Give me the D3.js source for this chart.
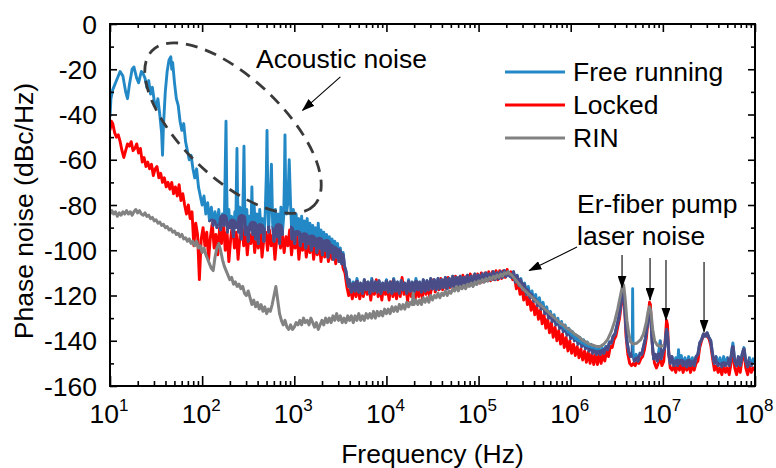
<html>
<head>
<script src="https://d3js.org/d3.v7.min.js"></script>
<style>
  body { margin: 0; background: #fff; }
  text { font-family: "Liberation Sans", Arial, sans-serif; fill: #000; }
</style>
</head>
<body>
<svg id="chart" width="776" height="468"></svg>
<script>
// ---- data: [log10(frequency / Hz), phase noise dBc/Hz] ----
const freeRunning = [
  [1.00,-41],[1.01,-33],[1.03,-29],[1.05,-27],[1.08,-24],[1.11,-21],[1.14,-23],[1.17,-30],[1.19,-33],[1.21,-27],
  [1.24,-20],[1.26,-19],[1.29,-24],[1.31,-26],[1.34,-21],[1.36,-22],[1.38,-24],[1.40,-28],[1.42,-25],[1.44,-31],
  [1.46,-28],[1.48,-34],[1.50,-37],[1.52,-33],[1.54,-40],[1.56,-48],[1.57,-58],[1.58,-45],[1.60,-30],[1.62,-21],
  [1.64,-16],[1.66,-14.5],[1.67,-20],[1.68,-17],[1.70,-26],[1.72,-33],[1.74,-36],[1.76,-43],[1.78,-47],[1.80,-44],
  [1.82,-52],[1.84,-56],[1.86,-60],[1.88,-58],[1.90,-64],[1.92,-68],[1.94,-64],[1.96,-72],[1.98,-76],[2.00,-80],
  [2.02,-76],[2.04,-84],[2.06,-79],[2.08,-87],[2.10,-81],[2.12,-89],[2.14,-83],[2.16,-90],[2.18,-82],[2.20,-91],
  [2.22,-84],[2.24,-89],[2.252,-60],[2.259,-43],[2.266,-70],[2.275,-92],[2.29,-82],[2.30,-90],[2.32,-85],[2.34,-94],
  [2.355,-83],[2.365,-90],[2.372,-70],[2.378,-55],[2.384,-75],[2.395,-92],[2.41,-81],[2.425,-95],[2.44,-84],[2.448,-70],
  [2.454,-54],[2.46,-75],[2.47,-93],[2.485,-82],[2.50,-96],[2.515,-85],[2.53,-91],[2.54,-72],[2.55,-93],[2.565,-80],
  [2.58,-95],[2.595,-84],[2.61,-97],[2.625,-82],[2.64,-92],[2.655,-86],[2.67,-96],[2.685,-83],[2.697,-66],[2.704,-47],
  [2.711,-70],[2.72,-92],[2.735,-80],[2.752,-62],[2.765,-88],[2.78,-96],[2.795,-82],[2.81,-94],[2.825,-84],[2.84,-97],
  [2.855,-81],[2.87,-93],[2.885,-85],[2.893,-68],[2.899,-49],[2.906,-72],[2.915,-84],[2.93,-79],[2.945,-60],[2.96,-80],
  [2.975,-95],[2.99,-82],[3.005,-97],[3.02,-84],[3.035,-93],[3.05,-86],[3.065,-98],[3.08,-85],[3.095,-96],[3.11,-87],
  [3.125,-99],[3.14,-86],[3.155,-97],[3.17,-88],[3.185,-100],[3.20,-89],[3.215,-98],[3.23,-90],[3.245,-101],[3.26,-88],
  [3.275,-99],[3.29,-91],[3.305,-102],[3.32,-92],[3.335,-100],[3.35,-93],[3.365,-103],[3.38,-94],[3.395,-101],[3.41,-95],
  [3.425,-104],[3.44,-96],[3.455,-103],[3.47,-97],[3.485,-105],[3.50,-99],[3.515,-106],[3.53,-101],[3.545,-107],[3.56,-109],
  [3.575,-113],[3.59,-116],[3.60,-113],[3.62,-118.5],[3.64,-114],[3.66,-118],[3.68,-112.5],[3.70,-118.5],[3.72,-114.5],[3.74,-119],
  [3.76,-113],[3.78,-117.5],[3.80,-114],[3.82,-119],[3.84,-112.5],[3.86,-118],[3.88,-114],[3.90,-118.5],[3.92,-113.5],[3.94,-119],
  [3.96,-114.5],[3.98,-117.5],[4.00,-113],[4.02,-118.5],[4.04,-114],[4.06,-119],[4.08,-112.5],[4.10,-118],[4.12,-114],[4.14,-119],
  [4.16,-113.5],[4.18,-117.5],[4.20,-114.5],[4.22,-119],[4.24,-113],[4.26,-118],[4.28,-114],[4.30,-118.5],[4.32,-112.5],[4.34,-117.5],
  [4.36,-114],[4.38,-118.5],[4.40,-113],[4.42,-118],[4.44,-113.5],[4.46,-117.5],[4.48,-112.5],[4.50,-117],[4.52,-113],[4.54,-117.5],
  [4.56,-112.5],[4.58,-117],[4.60,-113],[4.62,-116.5],[4.64,-112],[4.66,-117],[4.68,-112.5],[4.70,-116],[4.72,-111.5],[4.74,-116.5],
  [4.76,-112],[4.78,-115.5],[4.80,-111.5],[4.82,-116],[4.84,-112],[4.86,-115],[4.88,-111],[4.90,-115.5],[4.92,-111.5],[4.94,-114.5],
  [4.96,-110.5],[4.98,-115],[5.00,-111],[5.02,-114],[5.04,-110.5],[5.06,-114],[5.08,-110],[5.10,-113.5],[5.12,-110.5],[5.14,-113],
  [5.16,-109.5],[5.18,-113],[5.20,-110],[5.22,-112.5],[5.24,-109.5],[5.26,-112],[5.28,-109],[5.30,-111.5],[5.32,-109.5],[5.34,-111.5],
  [5.36,-112],[5.38,-109.5],[5.40,-114],[5.42,-111],[5.44,-115.5],[5.46,-112.5],[5.48,-117.5],[5.50,-114.5],[5.52,-119.5],[5.54,-116],
  [5.56,-121],[5.58,-118],[5.60,-122.5],[5.62,-119.5],[5.64,-124.5],[5.66,-121],[5.68,-126],[5.70,-123],[5.72,-128],[5.74,-125],
  [5.76,-130],[5.78,-127],[5.80,-131.5],[5.82,-128.5],[5.84,-133],[5.86,-130],[5.88,-134.5],[5.90,-131.5],[5.92,-136],[5.94,-133],
  [5.96,-137.5],[5.98,-134.5],[6.00,-139],[6.02,-136],[6.04,-140],[6.06,-137.5],[6.08,-141.5],[6.10,-138.5],[6.12,-142.5],[6.14,-139.5],
  [6.16,-143.5],[6.18,-140.5],[6.20,-144.5],[6.22,-141.5],[6.24,-145.5],[6.26,-142.5],[6.28,-146],[6.30,-143],[6.32,-146],[6.34,-143],
  [6.36,-145.5],[6.38,-142.5],[6.40,-144],[6.42,-140.5],[6.44,-141],[6.46,-138],[6.48,-137],[6.50,-133.5],[6.52,-130],[6.54,-125],
  [6.555,-120],[6.57,-117],[6.58,-121],[6.595,-131],[6.61,-140],[6.63,-145],[6.65,-147],[6.668,-146],[6.672,-117],[6.678,-146],
  [6.69,-149],[6.71,-146],[6.73,-149],[6.75,-145.5],[6.77,-146],[6.79,-142.5],[6.81,-139],[6.83,-133],[6.85,-127],[6.86,-126],
  [6.87,-131],[6.885,-141],[6.90,-148],[6.92,-146],[6.94,-149],[6.955,-145],[6.97,-140],[6.98,-148],[7.00,-145],[7.02,-143],
  [7.04,-135],[7.05,-137],[7.065,-146],[7.08,-150],[7.10,-147],[7.12,-151],[7.14,-147.5],[7.16,-151],[7.17,-144],[7.18,-150],
  [7.20,-146.5],[7.22,-151],[7.24,-147.5],[7.26,-151.5],[7.28,-147],[7.30,-151],[7.32,-147.5],[7.34,-151],[7.36,-147],[7.38,-146],
  [7.40,-141],[7.42,-139.5],[7.44,-137],[7.46,-138],[7.48,-136.5],[7.50,-138.5],[7.52,-140],[7.54,-146],[7.56,-150],[7.58,-147],
  [7.60,-151],[7.62,-147.5],[7.64,-151.5],[7.66,-147],[7.68,-151],[7.70,-147.5],[7.72,-151],[7.74,-147],[7.76,-141],[7.78,-149],
  [7.80,-151],[7.82,-147],[7.84,-151],[7.86,-146],[7.88,-143],[7.90,-149],[7.92,-151.5],[7.94,-147.5],[7.96,-151],[7.98,-148],
  [8.00,-150]
];

const locked = [
  [1.00,-47],[1.015,-43],[1.03,-44],[1.05,-48],[1.07,-50],[1.09,-49],[1.11,-52],[1.13,-56],[1.15,-59],[1.17,-56],
  [1.19,-53],[1.21,-54],[1.23,-52],[1.25,-56],[1.27,-55],[1.29,-53],[1.31,-57],[1.33,-55],[1.35,-61],[1.37,-59],
  [1.39,-63],[1.41,-61],[1.43,-64],[1.45,-62],[1.47,-67],[1.49,-64],[1.51,-63],[1.53,-68],[1.55,-66],[1.57,-70],
  [1.59,-68],[1.61,-72],[1.63,-70],[1.65,-73],[1.67,-70],[1.69,-75],[1.71,-72],[1.73,-76],[1.75,-71],[1.77,-78],
  [1.79,-75],[1.81,-80],[1.83,-84],[1.85,-80],[1.87,-86],[1.89,-83],[1.91,-98],[1.93,-88],[1.95,-93],[1.97,-113],
  [1.99,-95],[2.01,-90],[2.03,-98],[2.05,-92],[2.07,-104],[2.09,-94],[2.11,-88],[2.13,-99],[2.15,-93],[2.17,-102],
  [2.19,-90],[2.21,-97],[2.23,-86],[2.25,-100],[2.27,-92],[2.29,-105],[2.31,-95],[2.33,-88],[2.35,-99],[2.37,-92],
  [2.39,-104],[2.41,-94],[2.43,-86],[2.45,-98],[2.47,-91],[2.49,-102],[2.51,-93],[2.53,-97],[2.55,-89],[2.57,-101],
  [2.59,-94],[2.61,-99],[2.63,-90],[2.65,-103],[2.67,-95],[2.69,-92],[2.71,-100],[2.73,-91],[2.75,-98],[2.77,-93],
  [2.79,-104],[2.81,-95],[2.83,-90],[2.85,-99],[2.87,-93],[2.89,-101],[2.91,-94],[2.93,-98],[2.95,-91],[2.97,-102],
  [2.99,-95],[3.01,-99],[3.03,-93],[3.05,-104],[3.07,-96],[3.09,-100],[3.11,-94],[3.13,-103],[3.15,-97],[3.17,-101],
  [3.19,-95],[3.21,-104],[3.23,-97],[3.25,-102],[3.27,-96],[3.29,-105],[3.31,-98],[3.33,-103],[3.35,-97],[3.37,-105],
  [3.39,-99],[3.41,-104],[3.43,-100],[3.45,-106],[3.47,-101],[3.49,-105],[3.51,-103],[3.53,-108],[3.55,-110],[3.57,-116],
  [3.59,-120],[3.61,-117],[3.63,-121.5],[3.65,-116],[3.67,-120.5],[3.69,-115],[3.71,-121.5],[3.73,-117],[3.75,-120.5],[3.77,-114],
  [3.79,-119.5],[3.81,-116],[3.83,-122],[3.85,-115],[3.87,-119.5],[3.89,-113],[3.91,-120.5],[3.93,-116],[3.95,-122],[3.97,-115],
  [3.99,-119.5],[4.01,-117],[4.03,-122],[4.05,-114],[4.07,-120.5],[4.09,-116],[4.11,-121.5],[4.13,-115],[4.15,-120.5],[4.17,-112],
  [4.19,-119.5],[4.21,-116],[4.23,-122.5],[4.25,-115],[4.27,-120.5],[4.29,-117],[4.31,-122.5],[4.33,-115],[4.35,-120.5],[4.37,-116],
  [4.39,-121.5],[4.41,-114],[4.43,-119.5],[4.45,-115],[4.47,-120.5],[4.49,-117],[4.51,-113],[4.53,-118.5],[4.55,-114],[4.57,-117.5],
  [4.59,-112.5],[4.61,-117.5],[4.63,-113],[4.65,-117],[4.67,-112],[4.69,-116.5],[4.71,-112.5],[4.73,-116.5],[4.75,-111.5],[4.77,-116],
  [4.79,-112],[4.81,-116],[4.83,-111],[4.85,-115.5],[4.87,-111.5],[4.89,-115],[4.91,-110.5],[4.93,-115],[4.95,-111],[4.97,-114.5],
  [4.99,-110.5],[5.01,-114.5],[5.03,-110],[5.05,-114],[5.07,-110],[5.09,-113.5],[5.11,-109.5],[5.13,-113.5],[5.15,-109.5],[5.17,-113],
  [5.19,-109],[5.21,-113],[5.23,-109],[5.25,-112.5],[5.27,-109],[5.29,-112],[5.31,-108.5],[5.33,-111],[5.35,-109.5],[5.37,-113],
  [5.39,-112],[5.41,-117],[5.43,-114],[5.45,-119.5],[5.47,-116],[5.49,-122],[5.51,-118.5],[5.53,-124],[5.55,-120.5],[5.57,-126.5],
  [5.59,-122.5],[5.61,-128.5],[5.63,-124.5],[5.65,-130.5],[5.67,-126.5],[5.69,-132.5],[5.71,-128.5],[5.73,-134.5],[5.75,-130.5],[5.77,-136.5],
  [5.79,-132],[5.81,-138.5],[5.83,-134],[5.85,-140],[5.87,-135.5],[5.89,-141.5],[5.91,-137],[5.93,-143],[5.95,-138.5],[5.97,-144.5],
  [5.99,-140],[6.01,-145.5],[6.03,-141.5],[6.05,-146.5],[6.07,-142.5],[6.09,-147.5],[6.11,-143.5],[6.13,-148.5],[6.15,-144.5],[6.17,-149.5],
  [6.19,-145],[6.21,-150],[6.23,-145.5],[6.25,-150.5],[6.27,-146],[6.29,-150.5],[6.31,-146],[6.33,-150],[6.35,-145.5],[6.37,-149],
  [6.39,-144.5],[6.41,-147],[6.43,-142.5],[6.45,-143],[6.47,-139.5],[6.49,-138],[6.51,-134],[6.53,-130],[6.55,-124],[6.565,-120],
  [6.575,-119.5],[6.585,-126],[6.60,-138],[6.62,-146],[6.64,-150],[6.66,-151],[6.68,-150],[6.70,-151],[6.72,-149],[6.74,-150],
  [6.76,-148],[6.78,-147],[6.80,-144],[6.82,-139],[6.84,-131],[6.855,-123],[6.865,-124],[6.875,-133],[6.89,-145],[6.91,-150],
  [6.93,-152],[6.95,-150],[6.97,-147],[6.99,-151],[7.01,-149],[7.025,-140],[7.04,-131],[7.05,-133],[7.065,-146],[7.08,-152],
  [7.10,-153],[7.12,-151],[7.14,-154],[7.16,-150],[7.18,-153],[7.20,-150],[7.22,-154],[7.24,-151],[7.26,-153],[7.28,-150],
  [7.30,-154],[7.32,-151],[7.34,-153],[7.36,-150],[7.38,-149],[7.40,-143],[7.42,-140],[7.44,-138],[7.46,-137],[7.48,-138],
  [7.50,-139],[7.52,-142],[7.54,-148],[7.56,-153],[7.58,-151],[7.60,-154],[7.62,-152],[7.64,-155],[7.66,-151],[7.68,-154],
  [7.70,-152],[7.72,-155],[7.74,-150],[7.76,-144],[7.78,-152],[7.80,-155],[7.82,-151],[7.84,-154],[7.86,-148],[7.88,-145],
  [7.90,-152],[7.92,-155],[7.94,-151],[7.96,-154],[7.98,-152],[8.00,-153]
];

const rin = [
  [1.00,-84],[1.02,-82.5],[1.04,-84],[1.06,-83],[1.08,-85],[1.10,-83.5],[1.12,-84.5],[1.14,-83],[1.16,-84],[1.18,-82.5],
  [1.20,-84],[1.22,-83],[1.24,-84.5],[1.26,-83],[1.28,-82],[1.30,-83.5],[1.32,-82.5],[1.34,-84],[1.36,-84.5],[1.38,-83.5],
  [1.40,-85],[1.42,-84.5],[1.44,-86],[1.46,-85.5],[1.48,-87],[1.50,-86.5],[1.52,-88],[1.54,-87.5],[1.56,-89],[1.58,-88.5],
  [1.60,-90],[1.62,-89.5],[1.64,-91],[1.66,-90.5],[1.68,-92],[1.70,-91.5],[1.72,-93],[1.74,-92.5],[1.76,-94],[1.78,-93],
  [1.80,-95],[1.82,-94.5],[1.84,-96],[1.86,-95],[1.88,-97],[1.90,-96],[1.92,-98],[1.94,-96],[1.96,-99],[1.98,-98],
  [2.00,-101],[2.02,-99],[2.04,-102],[2.06,-104],[2.08,-106],[2.10,-108],[2.12,-109],[2.14,-103],[2.16,-99],[2.18,-97],
  [2.20,-100],[2.22,-104],[2.24,-107],[2.26,-109],[2.28,-111],[2.30,-113],[2.32,-112],[2.34,-115],[2.36,-114],[2.38,-116],
  [2.40,-115],[2.42,-117],[2.44,-116],[2.46,-119],[2.48,-120],[2.50,-118],[2.52,-121],[2.54,-124],[2.56,-122],[2.58,-125],
  [2.60,-123],[2.62,-126],[2.64,-124],[2.66,-127],[2.68,-125],[2.70,-128],[2.72,-126],[2.74,-127],[2.76,-124],[2.78,-120],
  [2.80,-116],[2.82,-122],[2.84,-128],[2.86,-131],[2.88,-133],[2.90,-131],[2.92,-134],[2.94,-135],[2.96,-133],[2.98,-135],
  [3.00,-134],[3.02,-132],[3.04,-133],[3.06,-131],[3.08,-133],[3.10,-130],[3.12,-132],[3.14,-131],[3.16,-133],[3.18,-130],
  [3.20,-132],[3.22,-134],[3.24,-132],[3.26,-135],[3.28,-133],[3.30,-131],[3.32,-133],[3.34,-130],[3.36,-132],[3.38,-130],
  [3.40,-132],[3.42,-129],[3.44,-131],[3.46,-128],[3.48,-131],[3.50,-129],[3.52,-132],[3.54,-130],[3.56,-132],[3.58,-129],
  [3.60,-131],[3.62,-129],[3.64,-132],[3.66,-129],[3.68,-131],[3.70,-128],[3.72,-131],[3.74,-129],[3.76,-131],[3.78,-128],
  [3.80,-130],[3.82,-128],[3.84,-130],[3.86,-127],[3.88,-130],[3.90,-127],[3.92,-129],[3.94,-127],[3.96,-129],[3.98,-126],
  [4.00,-128],[4.02,-126],[4.04,-128],[4.06,-125],[4.08,-127],[4.10,-125],[4.12,-127],[4.14,-124],[4.16,-126],[4.18,-124],
  [4.20,-126],[4.22,-123],[4.24,-125],[4.26,-123],[4.28,-124],[4.29,-119],[4.30,-124],[4.32,-122],[4.34,-124],[4.36,-122],
  [4.38,-124],[4.40,-121],[4.42,-123],[4.44,-121],[4.46,-123],[4.48,-120],[4.50,-122],[4.52,-120],[4.54,-121],[4.56,-119],
  [4.58,-121],[4.60,-119],[4.62,-120],[4.64,-118],[4.66,-120],[4.68,-118],[4.70,-119],[4.72,-117],[4.74,-118],[4.76,-116],
  [4.78,-118],[4.80,-116],[4.82,-117],[4.84,-115.5],[4.86,-117],[4.88,-115],[4.90,-116],[4.92,-114.5],[4.94,-116],[4.96,-114],
  [4.98,-115],[5.00,-113.5],[5.02,-114.5],[5.04,-113],[5.06,-114],[5.08,-112.5],[5.10,-113.5],[5.12,-112],[5.14,-113],[5.16,-111.5],
  [5.18,-112.5],[5.20,-111],[5.22,-112],[5.24,-110.5],[5.26,-111.5],[5.28,-110],[5.30,-110.5],[5.32,-109.5],[5.34,-110.5],[5.36,-111],
  [5.40,-113],[5.44,-115],[5.48,-117],[5.52,-118.5],[5.56,-120],[5.60,-121.5],[5.64,-123],[5.68,-124.5],[5.72,-126],[5.76,-127.5],
  [5.80,-129],[5.84,-130.5],[5.88,-132],[5.92,-133],[5.96,-134.5],[6.00,-135.5],[6.04,-137],[6.08,-138],[6.12,-139.5],[6.16,-140.5],
  [6.20,-141.5],[6.24,-142],[6.28,-142.5],[6.32,-142.5],[6.36,-141.5],[6.40,-139.5],[6.44,-136],[6.48,-131],[6.51,-126],[6.53,-122],
  [6.55,-118],[6.565,-115],[6.575,-115.5],[6.59,-121],[6.61,-131],[6.63,-137],[6.65,-140.5],[6.68,-141.5],[6.72,-141],[6.76,-139.5],
  [6.79,-137],[6.82,-132],[6.84,-127],[6.855,-125],[6.87,-127],[6.89,-135],[6.91,-140],[6.94,-142],[6.98,-142.5],[7.01,-142]
];

const seriesNames = ["Free running", "Locked", "RIN"];
const seriesColors = ["#2389c6", "#ff0000", "#828282"];
const overlapColor = "#4a4c88";

const yTicks = [0, -20, -40, -60, -80, -100, -120, -140, -160];
const xTickExps = [1, 2, 3, 4, 5, 6, 7, 8];

// annotation anchors in data units [log10 f, dB]
const ellipseCenter = [2.335, -46];
const acousticArrow = [[3.50, -23.4], [3.09, -38.2]];
const laserArrows = [
  [[6.068, -98.6], [5.55, -109.0]],
  [[6.557, -102.1], [6.557, -116.5]],
  [[6.861, -103.4], [6.861, -122.0]],
  [[7.034, -104.3], [7.034, -130.8]],
  [[7.447, -105.2], [7.447, -136.0]]
];

// ---- layout ----
const svg = d3.select("#chart");
const plot = { left: 110, right: 755, top: 24, bottom: 386 };
const fontSize = 26.5;
const traceWidth = 2.9;

const x = d3.scaleLog().domain([1e1, 1e8]).range([plot.left, plot.right]);
const y = d3.scaleLinear().domain([-160, 0]).range([plot.bottom, plot.top]);
const px = d => x(Math.pow(10, d[0]));
const py = d => y(d[1]);

const line = d3.line().x(px).y(py);

const defs = svg.append("defs");
defs.append("clipPath").attr("id", "clip")
    .append("rect")
    .attr("x", plot.left).attr("y", plot.top)
    .attr("width", plot.right - plot.left).attr("height", plot.bottom - plot.top);

// where the free-running trace runs through the locked one the figure shows dark navy
defs.append("mask").attr("id", "overlap")
    .attr("maskUnits", "userSpaceOnUse")
    .attr("x", 0).attr("y", 0).attr("width", 776).attr("height", 468)
    .append("path")
    .attr("d", line(locked))
    .attr("fill", "none").attr("stroke", "#fff").attr("stroke-width", 9)
    .attr("stroke-linejoin", "round");

defs.append("marker").attr("id", "head")
    .attr("markerUnits", "userSpaceOnUse")
    .attr("markerWidth", 13).attr("markerHeight", 9)
    .attr("refX", 12).attr("refY", 4.5).attr("orient", "auto")
    .append("path").attr("d", "M0,0 L13,4.5 L0,9 Z").attr("fill", "#000");

const traces = svg.append("g").attr("clip-path", "url(#clip)");

traces.append("path").datum(locked)
    .attr("d", line).attr("fill", "none")
    .attr("stroke", seriesColors[1]).attr("stroke-width", traceWidth).attr("stroke-linejoin", "round");

traces.append("path").datum(freeRunning)
    .attr("d", line).attr("fill", "none")
    .attr("stroke", seriesColors[0]).attr("stroke-width", traceWidth).attr("stroke-linejoin", "round");

traces.append("path").datum(freeRunning)
    .attr("d", line).attr("fill", "none").attr("mask", "url(#overlap)")
    .attr("stroke", overlapColor).attr("stroke-width", traceWidth).attr("stroke-linejoin", "round");

traces.append("path").datum(rin)
    .attr("d", line).attr("fill", "none")
    .attr("stroke", seriesColors[2]).attr("stroke-width", 3).attr("stroke-linejoin", "round");

// ---- axes: framed box, ticks pointing inward ----
const xMinor = [];
xTickExps.slice(0, -1).forEach(e => { for (let k = 2; k <= 9; k++) xMinor.push(k * Math.pow(10, e)); });
const xMajor = xTickExps.map(e => Math.pow(10, e));
const yMinor = d3.range(-150, 0, 20);

const tickStyle = g => {
  g.select(".domain").remove();
  g.selectAll("line").attr("stroke", "#000").attr("stroke-width", 1.6);
  g.selectAll("text").remove();
};

svg.append("g").attr("transform", `translate(0,${plot.bottom})`)
    .call(d3.axisBottom(x).tickValues(xMajor).tickSize(-10)).call(tickStyle);
svg.append("g").attr("transform", `translate(0,${plot.bottom})`)
    .call(d3.axisBottom(x).tickValues(xMinor).tickSize(-5)).call(tickStyle);
svg.append("g").attr("transform", `translate(0,${plot.top})`)
    .call(d3.axisTop(x).tickValues(xMajor).tickSize(-8)).call(tickStyle);
svg.append("g").attr("transform", `translate(0,${plot.top})`)
    .call(d3.axisTop(x).tickValues(xMinor).tickSize(-4)).call(tickStyle);

svg.append("g").attr("transform", `translate(${plot.left},0)`)
    .call(d3.axisLeft(y).tickValues(yTicks).tickSize(-7)).call(tickStyle);
svg.append("g").attr("transform", `translate(${plot.left},0)`)
    .call(d3.axisLeft(y).tickValues(yMinor).tickSize(-4)).call(tickStyle);
svg.append("g").attr("transform", `translate(${plot.right},0)`)
    .call(d3.axisRight(y).tickValues(yTicks).tickSize(-7)).call(tickStyle);
svg.append("g").attr("transform", `translate(${plot.right},0)`)
    .call(d3.axisRight(y).tickValues(yMinor).tickSize(-4)).call(tickStyle);

svg.append("rect")
    .attr("x", plot.left).attr("y", plot.top)
    .attr("width", plot.right - plot.left).attr("height", plot.bottom - plot.top)
    .attr("fill", "none").attr("stroke", "#000").attr("stroke-width", 2);

// tick labels
svg.append("g").selectAll("text").data(yTicks).join("text")
    .attr("x", plot.left - 13).attr("y", d => y(d)).attr("dy", "0.36em")
    .attr("text-anchor", "end").attr("font-size", fontSize)
    .text(d => d);

const xl = svg.append("g").selectAll("text").data(xTickExps).join("text")
    .attr("x", d => x(Math.pow(10, d)) - 1).attr("y", 423)
    .attr("text-anchor", "middle").attr("font-size", fontSize);
xl.append("tspan").text("10");
xl.append("tspan").attr("font-size", 17).attr("dy", -12).text(d => d);

// axis titles
svg.append("text")
    .attr("x", (plot.left + plot.right) / 2).attr("y", 463)
    .attr("text-anchor", "middle").attr("font-size", fontSize)
    .text("Frequency (Hz)");
svg.append("text")
    .attr("transform", `translate(33,${(plot.top + plot.bottom) / 2 + 6}) rotate(-90)`)
    .attr("text-anchor", "middle").attr("font-size", fontSize)
    .text("Phase noise (dBc/Hz)");

// legend
const legend = svg.append("g");
seriesNames.forEach((name, i) => {
  const ly = 72 + i * 33;
  legend.append("line")
      .attr("x1", 505).attr("x2", 565).attr("y1", ly).attr("y2", ly)
      .attr("stroke", seriesColors[i]).attr("stroke-width", 3);
  legend.append("text")
      .attr("x", 573).attr("y", ly + 9).attr("font-size", fontSize)
      .text(name);
});

// annotations
svg.append("ellipse")
    .attr("transform", `translate(${px(ellipseCenter)},${py(ellipseCenter)}) rotate(43.5)`)
    .attr("rx", 112).attr("ry", 50)
    .attr("fill", "none").attr("stroke", "#3a3a3a").attr("stroke-width", 2.8)
    .attr("stroke-dasharray", "12,8");

svg.append("text").attr("x", 256).attr("y", 68).attr("font-size", fontSize).text("Acoustic noise");
svg.append("text").attr("x", 577).attr("y", 213).attr("font-size", fontSize).text("Er-fiber pump");
svg.append("text").attr("x", 577).attr("y", 245).attr("font-size", fontSize).text("laser noise");

svg.append("g").selectAll("line").data([acousticArrow, ...laserArrows]).join("line")
    .attr("x1", d => px(d[0])).attr("y1", d => py(d[0]))
    .attr("x2", d => px(d[1])).attr("y2", d => py(d[1]))
    .attr("stroke", "#000").attr("stroke-width", 1.1)
    .attr("marker-end", "url(#head)");
</script>
</body>
</html>
